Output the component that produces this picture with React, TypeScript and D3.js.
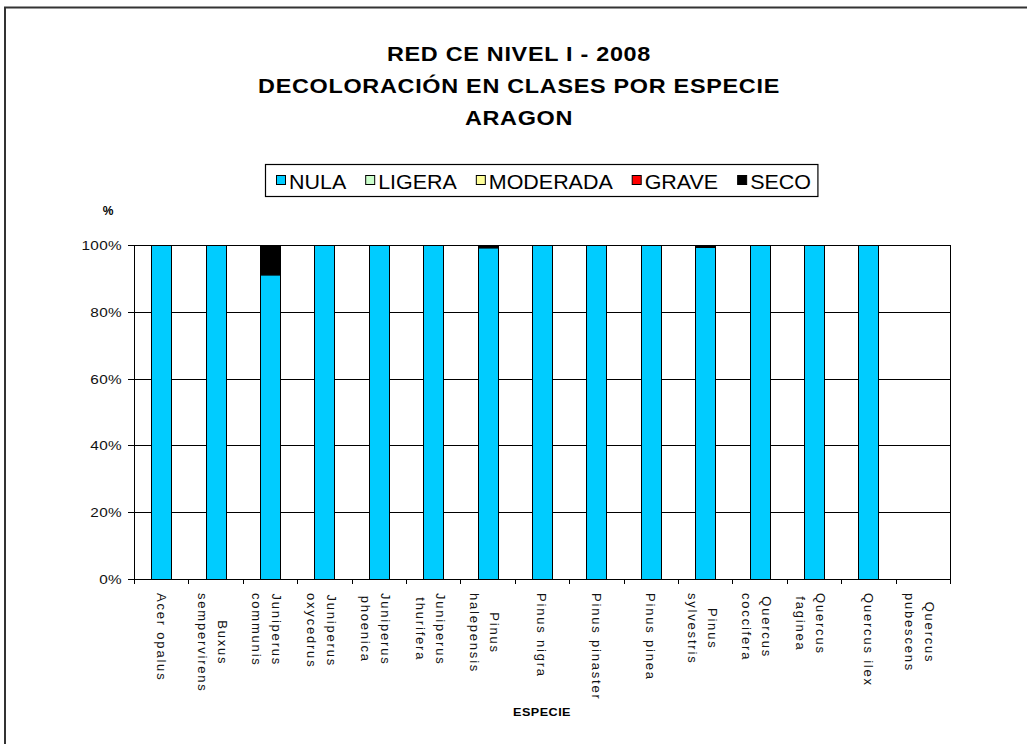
import React, { useEffect, useRef } from "react";
import * as d3 from "d3";

// species (x categories), each split into the lines shown under the axis
const species = [
	"Acer opalus",
	"Buxus sempervirens",
	"Juniperus communis",
	"Juniperus oxycedrus",
	"Juniperus phoenica",
	"Juniperus thurifera",
	"Pinus halepensis",
	"Pinus nigra",
	"Pinus pinaster",
	"Pinus pinea",
	"Pinus sylvestris",
	"Quercus coccifera",
	"Quercus faginea",
	"Quercus ilex",
	"Quercus pubescens",
];
const speciesLines = [
	["Acer opalus"],
	["Buxus", "sempervirens"],
	["Juniperus", "communis"],
	["Juniperus", "oxycedrus"],
	["Juniperus", "phoenica"],
	["Juniperus", "thurifera"],
	["Pinus", "halepensis"],
	["Pinus nigra"],
	["Pinus pinaster"],
	["Pinus pinea"],
	["Pinus", "sylvestris"],
	["Quercus", "coccifera"],
	["Quercus", "faginea"],
	["Quercus ilex"],
	["Quercus", "pubescens"],
];

// % of trees per class
const classes = ["NULA", "LIGERA", "MODERADA", "GRAVE", "SECO"];
const nula = [100, 100, 91.2, 100, 100, 100, 99.3, 100, 100, 100, 99.4, 100, 100, 100, 0];
const ligera = [0, 0, 0, 0, 0, 0, 0, 0, 0, 0, 0, 0, 0, 0, 0];
const moderada = [0, 0, 0, 0, 0, 0, 0, 0, 0, 0, 0, 0, 0, 0, 0];
const grave = [0, 0, 0, 0, 0, 0, 0, 0, 0, 0, 0, 0, 0, 0, 0];
const seco = [0, 0, 8.8, 0, 0, 0, 0.7, 0, 0, 0, 0.6, 0, 0, 0, 0];

const yTicks = [0, 20, 40, 60, 80, 100];
const titleLines = ["RED CE NIVEL I - 2008", "DECOLORACIÓN EN CLASES POR ESPECIE", "ARAGON"];

const colors = ["#00ccff", "#ccffcc", "#ffff99", "#ff0000", "#000000"];
const FONT = "'Liberation Sans', Arial, sans-serif";

const App = () => {
	const ref = useRef<SVGSVGElement>(null);

	useEffect(() => {
		const svg = d3.select(ref.current);
		const left = 134,
			right = 950,
			top = 245,
			bottom = 579;

		const x = d3
			.scaleBand()
			.domain(species)
			.range([left, right])
			.paddingInner(0.63)
			.paddingOuter(0.315);
		const step = x.step();
		const y = d3.scaleLinear().domain([0, 100]).range([bottom, top]);

		// outer frame
		svg
			.append("path")
			.attr("d", "M5,744V7.5H1027")
			.attr("fill", "none")
			.attr("stroke", "#333")
			.attr("stroke-width", 2);

		// titles (text in the scan is drawn wide, so stretch it a bit)
		svg
			.append("g")
			.selectAll("text")
			.data(titleLines)
			.enter()
			.append("text")
			.attr("transform", (d, i) => "translate(519," + (61 + i * 32) + ") scale(1.2,1)")
			.attr("text-anchor", "middle")
			.attr("font-family", FONT)
			.attr("font-weight", "bold")
			.attr("font-size", 19.5)
			.attr("letter-spacing", 0.6)
			.text((d) => d);

		// legend, items laid out one after the other
		const legendBox = svg
			.append("rect")
			.attr("x", 265.5)
			.attr("y", 164.5)
			.attr("height", 32)
			.attr("fill", "#fff")
			.attr("stroke", "#000")
			.attr("stroke-width", 1.2);
		const sx = 1.1;
		let lx = 276;
		classes.forEach((c, i) => {
			svg
				.append("rect")
				.attr("x", lx + 0.5)
				.attr("y", 175.5)
				.attr("width", 9)
				.attr("height", 9)
				.attr("fill", colors[i])
				.attr("stroke", "#000");
			const t = svg
				.append("text")
				.attr("transform", "translate(" + (lx + 13) + ",189) scale(" + sx + ",1)")
				.attr("font-family", FONT)
				.attr("font-size", 19.5)
				.text(c);
			const w = (t.node() as SVGTextElement).getComputedTextLength() * sx;
			lx += 13 + w + (i < classes.length - 1 ? 19 : 0);
		});
		legendBox.attr("width", lx + 7 - 265.5);

		// gridlines
		svg
			.append("g")
			.selectAll("line")
			.data(yTicks)
			.enter()
			.append("line")
			.attr("x1", left)
			.attr("x2", right)
			.attr("y1", (d) => Math.round(y(d)) + 0.5)
			.attr("y2", (d) => Math.round(y(d)) + 0.5)
			.attr("stroke", "#000");

		// y axis
		const yAxis = svg.append("g");
		yAxis
			.selectAll("line")
			.data(yTicks)
			.enter()
			.append("line")
			.attr("x1", left - 6)
			.attr("x2", left)
			.attr("y1", (d) => Math.round(y(d)) + 0.5)
			.attr("y2", (d) => Math.round(y(d)) + 0.5)
			.attr("stroke", "#000");
		yAxis
			.selectAll("text")
			.data(yTicks)
			.enter()
			.append("text")
			.attr("transform", (d) => "translate(122," + (y(d) + 5) + ") scale(1.18,1)")
			.attr("text-anchor", "end")
			.attr("font-family", FONT)
			.attr("font-size", 13)
			.attr("letter-spacing", 0.3)
			.attr("fill", "#111")
			.text((d) => d + "%");
		svg
			.append("text")
			.attr("x", 108)
			.attr("y", 215)
			.attr("text-anchor", "middle")
			.attr("font-family", FONT)
			.attr("font-weight", "bold")
			.attr("font-size", 12)
			.text("%");

		// stacked bars
		const series = [nula, ligera, moderada, grave, seco];
		const rows = species.map((s, i) => {
			const row: any = { species: s };
			classes.forEach((c, k) => (row[c] = series[k][i]));
			return row;
		});
		const stacked = d3.stack().keys(classes)(rows);
		svg
			.append("g")
			.selectAll("g")
			.data(stacked)
			.enter()
			.append("g")
			.attr("fill", (d, i) => colors[i])
			.selectAll("rect")
			.data((d) => d.filter((v) => v[1] - v[0] > 0))
			.enter()
			.append("rect")
			.attr("x", (d) => Math.round(x(d.data.species)) + 0.5)
			.attr("y", (d) => y(d[1]) + 0.5)
			.attr("width", Math.round(x.bandwidth()))
			.attr("height", (d) => y(d[0]) - y(d[1]))
			.attr("stroke", "#000");

		// plot borders
		svg
			.append("path")
			.attr("d", "M" + (left + 0.5) + "," + top + "V" + (bottom + 0.5) + "H" + (right + 0.5) + "V" + top)
			.attr("fill", "none")
			.attr("stroke", "#000");

		// x ticks at category boundaries
		svg
			.append("g")
			.selectAll("line")
			.data(d3.range(species.length + 1))
			.enter()
			.append("line")
			.attr("x1", (i) => Math.round(left + i * step) + 0.5)
			.attr("x2", (i) => Math.round(left + i * step) + 0.5)
			.attr("y1", bottom)
			.attr("y2", bottom + 5)
			.attr("stroke", "#000");

		// rotated x labels
		const labels = svg
			.append("g")
			.selectAll("g")
			.data(speciesLines)
			.enter()
			.append("g")
			.attr("transform", (d, i) => "translate(" + (x(species[i]) + x.bandwidth() / 2) + ",593) rotate(90)");
		labels.each(function (lines) {
			const g = d3.select(this);
			const offsets = lines.length === 1 ? [0] : [-7, 13];
			const texts = lines.map((line, k) =>
				g
					.append("text")
					.attr("y", offsets[k])
					.attr("dy", "0.35em")
					.attr("text-anchor", "middle")
					.attr("font-family", FONT)
					.attr("font-size", 13)
					.attr("letter-spacing", 1.8)
					.attr("fill", "#111")
					.text(line)
			);
			const widths = texts.map((t) => (t.node() as SVGTextElement).getComputedTextLength());
			const maxW = d3.max(widths) || 0;
			texts.forEach((t) => t.attr("x", maxW / 2));
		});

		// x axis title
		svg
			.append("text")
			.attr("transform", "translate(" + (left + right) / 2 + ",716) scale(1.15,1)")
			.attr("text-anchor", "middle")
			.attr("font-family", FONT)
			.attr("font-weight", "bold")
			.attr("font-size", 11)
			.attr("letter-spacing", 0.4)
			.text("ESPECIE");

		return () => {
			svg.selectAll("*").remove();
		};
	}, []);

	return (
		<svg
			ref={ref}
			width={1027}
			height={744}
			style={{ position: "absolute", left: 0, top: 0, background: "#fff" }}
		></svg>
	);
};

export default App;
